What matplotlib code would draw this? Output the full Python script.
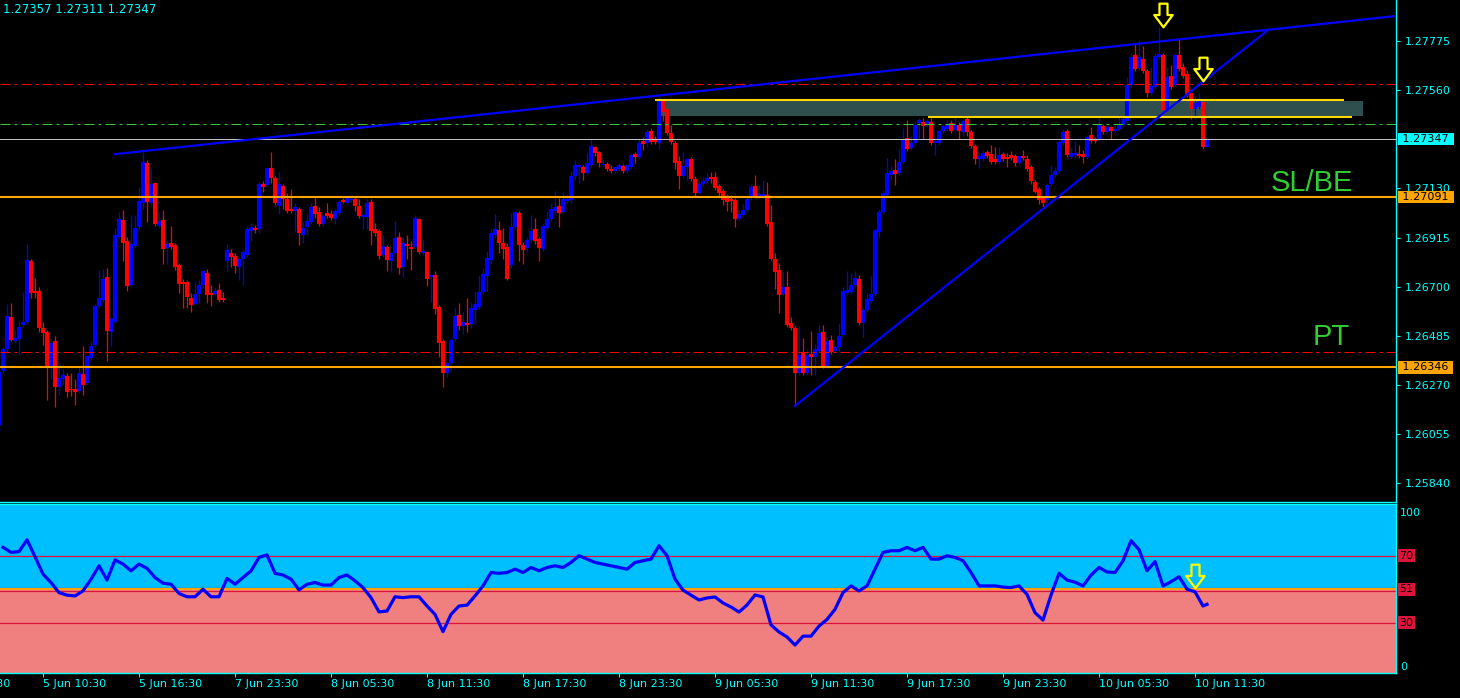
import numpy as np
import matplotlib.pyplot as plt
from matplotlib.path import Path
from matplotlib.patches import Rectangle
from matplotlib.transforms import blended_transform_factory

# GBPUSD-style M15 candles, prices in points (1e-5), first bar index -1
FIRST_BAR = -1
OPEN = [126094, 126331, 126428, 126567, 126463, 126471, 126532, 126545, 126813, 126681, 126681, 126519, 126501, 126353, 126463, 126260, 126296, 126309, 126252, 126252, 126244, 126317, 126278, 126388, 126445, 126616, 126642, 126742, 126501, 126545, 126917, 126992, 126900, 126707, 126878, 126961, 127066, 127241, 127066, 127154, 126966, 126992, 126869, 126891, 126882, 126795, 126720, 126720, 126650, 126624, 126667, 126707, 126760, 126672, 126667, 126685, 126650,
        126813, 126847, 126834, 126786, 126821, 126838, 126944, 126957, 126953, 127149, 127145, 127219, 127176, 127053, 127141, 127084, 127040, 127032, 127040, 126926, 126961, 126983, 127053, 127027, 126974, 127023, 127018, 126997, 127023, 127079, 127066, 127079, 127084, 127053, 127005, 127005, 127070, 126953, 126944, 126838, 126873, 126813, 126847, 126917, 126786, 126886, 126873, 126873, 126997, 126847, 126851, 126742, 126751, 126611, 126463, 126322, 126366, 126471, 126576, 126528, 126541, 126536, 126598, 126611, 126676, 126747, 126817, 126926, 126948, 126891, 126873, 126795, 126961, 127023, 126882, 126869, 126904, 126953, 126909, 126865, 126957, 126997, 127032, 127053, 127027, 127075, 127079, 127185, 127223, 127223, 127198, 127232, 127311, 127289, 127232, 127236, 127215, 127207, 127215, 127228, 127207, 127223, 127280, 127267, 127338, 127329, 127382, 127342, 127329, 127513, 127478, 127373, 127329, 127250, 127185, 127223, 127258, 127171, 127110, 127149, 127163, 127180, 127180, 127141, 127119, 127092, 127084, 127079, 126997, 127014, 127036, 127097, 127141, 127097, 127097, 127101, 126983, 126821, 126773, 126667, 126698, 126541, 126519, 126322, 126410, 126322, 126405, 126392, 126419, 126501, 126353, 126467, 126419, 126436, 126488, 126672, 126676, 126707, 126734, 126541, 126598, 126638, 126667, 126939, 127027, 127101, 127189, 127211, 127198, 127245, 127351, 127307, 127329, 127417, 127421, 127408, 127421, 127329, 127329, 127382, 127390, 127417, 127386, 127408, 127377, 127434, 127377, 127316, 127258, 127258, 127289, 127280, 127258, 127245, 127280, 127267, 127276, 127272, 127241, 127272, 127258, 127223, 127158, 127128, 127088, 127079, 127149, 127189, 127207, 127329, 127382, 127267, 127276, 127280, 127280, 127267, 127364, 127342, 127347, 127404, 127377, 127399, 127382, 127390, 127408, 127426, 127583, 127714, 127657, 127697, 127645, 127548, 127574, 127705, 127714, 127478, 127622, 127583, 127714, 127662, 127632, 127548, 127478, 127486, 127508, 127311]
HIGH = [126344, 126436, 126624, 126629, 126510, 126554, 126676, 126886, 126821, 126738, 126698, 126545, 126510, 126475, 126484, 126366, 126340, 126322, 126322, 126296, 126348, 126441, 126401, 126463, 126624, 126773, 126778, 126782, 126567, 126957, 127027, 127036, 126917, 127014, 127014, 127136, 127289, 127254, 127219, 127158, 127027, 127036, 126909, 126966, 126891, 126804, 126734, 126729, 126672, 126720, 126729, 126773, 126778, 126707, 126698, 126716, 126676,
        126886, 126865, 126847, 126829, 126860, 126966, 126979, 126970, 127158, 127163, 127223, 127289, 127185, 127202, 127149, 127110, 127128, 127066, 127049, 126988, 127018, 127066, 127088, 127049, 127018, 127066, 127036, 127040, 127079, 127088, 127092, 127092, 127092, 127084, 127023, 127084, 127084, 126979, 126953, 126926, 126882, 126856, 126988, 126939, 126917, 126926, 126900, 127014, 127001, 126909, 126856, 126755, 126769, 126620, 126471, 126375, 126480, 126607, 126629, 126589, 126650, 126633, 126681, 126751, 126782, 126856, 126953, 127018, 126988, 126957, 126891, 127023, 127032, 127032, 126895, 126917, 127014, 127001, 126917, 126979, 127032, 127066, 127119, 127088, 127114, 127105, 127207, 127254, 127236, 127232, 127285, 127347, 127316, 127294, 127258, 127245, 127232, 127228, 127241, 127236, 127236, 127285, 127289, 127351, 127355, 127390, 127395, 127360, 127530, 127517, 127486, 127408, 127338, 127272, 127289, 127263, 127267, 127185, 127167, 127180, 127198, 127202, 127202, 127149, 127128, 127105, 127101, 127088, 127036, 127062, 127097, 127149, 127189, 127145, 127167, 127158, 127057, 126847, 126804, 126769, 126769, 126567, 126528, 126528, 126475, 126428, 126506, 126449, 126532, 126532, 126475, 126488, 126445, 126541, 126698, 126769, 126760, 126769, 126751, 126611, 126667, 126747, 126957, 127040, 127123, 127263, 127228, 127258, 127303, 127395, 127430, 127360, 127426, 127438, 127438, 127434, 127438, 127355, 127386, 127412, 127430, 127430, 127442, 127421, 127434, 127442, 127386, 127324, 127289, 127298, 127298, 127320, 127311, 127311, 127289, 127285, 127294, 127280, 127276, 127298, 127276, 127232, 127167, 127136, 127097, 127154, 127232, 127223, 127342, 127390, 127390, 127311, 127338, 127320, 127298, 127364, 127399, 127355, 127447, 127412, 127404, 127404, 127408, 127451, 127442, 127618, 127723, 127767, 127780, 127754, 127653, 127662, 127723, 127836, 127723, 127662, 127670, 127723, 127789, 127679, 127649, 127548, 127535, 127548, 127508, 127357]
LOW = [126063, 126317, 126410, 126463, 126454, 126405, 126523, 126536, 126650, 126650, 126501, 126445, 126204, 126296, 126173, 126226, 126269, 126217, 126222, 126182, 126235, 126226, 126269, 126379, 126436, 126607, 126633, 126375, 126441, 126541, 126909, 126813, 126681, 126698, 126869, 126953, 127040, 126983, 127057, 126966, 126957, 126799, 126799, 126865, 126773, 126672, 126607, 126607, 126589, 126620, 126629, 126694, 126629, 126616, 126659, 126633, 126633,
       126769, 126786, 126760, 126729, 126707, 126829, 126900, 126935, 126935, 127114, 127136, 127154, 127057, 127018, 127040, 127023, 127023, 126939, 126882, 126891, 126926, 126974, 127001, 126966, 126966, 127001, 126992, 126974, 127014, 127066, 127057, 127070, 127032, 127001, 126953, 126953, 126882, 126922, 126821, 126829, 126769, 126764, 126838, 126755, 126742, 126821, 126773, 126865, 126842, 126838, 126703, 126633, 126580, 126392, 126260, 126304, 126331, 126463, 126510, 126493, 126501, 126519, 126536, 126603, 126667, 126681, 126799, 126917, 126847, 126821, 126729, 126782, 126953, 126813, 126799, 126851, 126895, 126886, 126813, 126856, 126948, 126988, 127023, 126961, 127018, 127066, 127066, 127167, 127154, 127167, 127189, 127219, 127272, 127223, 127223, 127207, 127198, 127198, 127207, 127198, 127198, 127215, 127241, 127258, 127298, 127311, 127324, 127324, 127303, 127426, 127364, 127324, 127215, 127128, 127176, 127163, 127163, 127097, 127105, 127141, 127154, 127154, 127123, 127097, 127057, 127032, 127027, 126961, 126988, 127005, 127027, 127079, 127088, 127088, 127088, 126966, 126813, 126690, 126585, 126659, 126523, 126510, 126178, 126313, 126313, 126313, 126313, 126313, 126410, 126344, 126344, 126405, 126410, 126410, 126480, 126663, 126667, 126698, 126532, 126480, 126589, 126629, 126659, 126917, 127018, 127092, 127167, 127145, 127189, 127236, 127294, 127298, 127320, 127347, 127347, 127399, 127320, 127276, 127320, 127373, 127382, 127373, 127377, 127347, 127360, 127360, 127307, 127236, 127219, 127250, 127263, 127236, 127236, 127236, 127250, 127223, 127254, 127228, 127232, 127254, 127207, 127149, 127110, 127062, 127049, 127070, 127141, 127180, 127198, 127320, 127267, 127258, 127267, 127263, 127241, 127258, 127329, 127329, 127338, 127368, 127368, 127347, 127373, 127382, 127399, 127417, 127574, 127645, 127649, 127636, 127530, 127539, 127566, 127697, 127460, 127469, 127566, 127574, 127645, 127614, 127530, 127434, 127434, 127478, 127303, 127311]
CLOSE = [126326, 126428, 126572, 126467, 126475, 126523, 126545, 126817, 126672, 126672, 126519, 126497, 126353, 126454, 126260, 126300, 126313, 126239, 126248, 126239, 126322, 126269, 126397, 126441, 126616, 126650, 126734, 126506, 126559, 126926, 126997, 126891, 126703, 126886, 126957, 127075, 127245, 127070, 127149, 126974, 126988, 126865, 126886, 126873, 126786, 126711, 126711, 126654, 126620, 126667, 126707, 126769, 126663, 126663, 126681, 126642, 126642,
         126860, 126829, 126791, 126821, 126851, 126953, 126961, 126948, 127149, 127136, 127219, 127176, 127066, 127149, 127084, 127032, 127032, 127049, 126935, 126957, 126988, 127049, 127018, 126974, 127010, 127010, 127001, 127032, 127070, 127070, 127088, 127084, 127053, 127010, 127014, 127066, 126944, 126935, 126834, 126878, 126817, 126847, 126913, 126782, 126891, 126878, 126865, 127001, 126851, 126856, 126734, 126751, 126603, 126454, 126322, 126366, 126467, 126572, 126528, 126545, 126532, 126607, 126624, 126676, 126755, 126825, 126935, 126953, 126891, 126865, 126734, 126961, 127027, 126882, 126860, 126904, 126944, 126900, 126869, 126966, 126997, 127040, 127049, 127023, 127084, 127084, 127185, 127232, 127232, 127198, 127241, 127316, 127285, 127241, 127236, 127215, 127207, 127223, 127232, 127207, 127232, 127276, 127267, 127329, 127324, 127377, 127333, 127333, 127513, 127464, 127373, 127333, 127241, 127185, 127228, 127258, 127171, 127110, 127149, 127163, 127176, 127171, 127132, 127110, 127079, 127070, 127075, 126997, 127018, 127036, 127084, 127136, 127097, 127105, 127105, 126974, 126821, 126764, 126663, 126698, 126532, 126519, 126322, 126401, 126322, 126401, 126392, 126428, 126497, 126353, 126463, 126414, 126436, 126484, 126681, 126685, 126707, 126738, 126541, 126598, 126646, 126667, 126948, 127027, 127110, 127198, 127207, 127193, 127245, 127347, 127303, 127329, 127408, 127430, 127404, 127426, 127329, 127338, 127382, 127404, 127412, 127382, 127408, 127382, 127426, 127377, 127316, 127258, 127272, 127285, 127272, 127245, 127245, 127276, 127258, 127258, 127263, 127241, 127272, 127263, 127215, 127163, 127114, 127079, 127066, 127145, 127189, 127207, 127333, 127377, 127276, 127285, 127285, 127272, 127267, 127355, 127338, 127338, 127408, 127377, 127399, 127382, 127390, 127408, 127434, 127583, 127705, 127653, 127705, 127645, 127548, 127579, 127710, 127719, 127473, 127618, 127574, 127714, 127653, 127622, 127539, 127478, 127504, 127513, 127311, 127347]

# RSI read every second bar (bars 0, 2, ... 300), then the last bar 301
RSI = [75, 72, 72.5, 79.5, 69.4, 59, 54, 48, 46.5, 46, 49, 56, 64, 55.5, 67.5, 65, 61, 65, 62.5, 57,
       53.6, 53, 47.5, 45.5, 45.5, 50, 45.5, 45.5, 56.5, 53, 57, 61, 69, 70.5, 59.5, 58.5, 56, 49.6, 53, 54,
       52.5, 52.5, 57, 58.5, 55, 51, 45, 36.5, 37, 45.5, 45, 45.5, 45.5, 40, 35, 24.7, 35, 40, 40.5, 46,
       52, 60, 59.5,
       60, 62, 60, 63, 61, 63, 64, 63, 66, 70, 68, 66, 65, 64, 63, 62, 66, 67, 68, 76, 70, 56, 49.5, 46.5,
       43.6, 44.8, 45.4, 41.8, 39.4, 36.4, 40.6, 46.6, 45.4, 28.7, 24.5, 21.5, 16.7, 22, 22, 28, 32, 38, 48,
       52, 49, 52, 62, 72, 73, 73, 75, 73, 75, 68, 68, 70, 69, 67, 60, 52, 52, 52,
       51.3, 51, 52, 47, 36, 31.6, 46.5, 59.5, 55.5, 54.2, 52, 58.5, 63, 60.3, 60, 67, 79, 73.6, 61, 66.5,
       52, 54.5, 57.5, 50, 48.5, 40]
RSI_LAST = 41

PRICE_TICKS = [1.27775, 1.27560, 1.27130, 1.26915, 1.26700, 1.26485, 1.26270, 1.26055, 1.25840]
TIME_BARS = [10, 34, 58, 82, 106, 130, 154, 178, 202, 226, 250, 274, 298]
TIME_LABELS = ['5 Jun 10:30', '5 Jun 16:30', '7 Jun 23:30', '8 Jun 05:30', '8 Jun 11:30', '8 Jun 17:30',
               '8 Jun 23:30', '9 Jun 05:30', '9 Jun 11:30', '9 Jun 17:30', '9 Jun 23:30', '10 Jun 05:30',
               '10 Jun 11:30']

# chart objects (bar index, price)
RED_LEVELS = [1.27587, 1.26414]
GREEN_LEVEL = 1.27412
BID = 1.27347
ORANGE_LEVELS = [1.27091, 1.26346]
YELLOW_LINES = [(163, 335.25, 1.27517), (231.25, 337.25, 1.27442)]
ZONE = (164.25, 340, 1.27447, 1.27513)
UPPER_TL = [(28, 348.25), (1.27280, 1.27885)]
LOWER_TL = [(198, 316), (1.26178, 1.27820)]
ARROWS = [(290, 1.27889), (300, 1.27653)]
RSI_ARROW = (298, 58)

CYAN = '#00FFFF'

fig = plt.figure(figsize=(14.6, 6.98), dpi=100, facecolor='black')
ax = fig.add_axes([0, 196 / 698, 1396 / 1460, 502 / 698])
rsi_ax = fig.add_axes([0, 25 / 698, 1396 / 1460, 169 / 698], sharex=ax)

# candles
o = np.array(OPEN) / 1e5
h = np.array(HIGH) / 1e5
l = np.array(LOW) / 1e5
c = np.array(CLOSE) / 1e5
x = np.arange(len(c)) + FIRST_BAR
cols = np.where(c >= o, '#0000FF', '#FF0000')
ax.vlines(x, l, h, colors=cols, lw=0.9, zorder=2)
ax.bar(x, np.maximum(np.abs(c - o), 0.00004), bottom=np.minimum(o, c), width=0.78,
       color=cols, linewidth=0, zorder=2)

ax.set_facecolor('black')
ax.set_xlim(-0.75, 348.25)
ax.set_ylim(1.25757, 1.27955)

# zone and lines
ax.add_patch(Rectangle((ZONE[0], ZONE[2]), ZONE[1] - ZONE[0], ZONE[3] - ZONE[2],
                       facecolor='#2F4F4F', edgecolor='none', zorder=1))
dashdot = (0, (10, 4, 3, 4))
for lv in RED_LEVELS:
    ax.axhline(lv, color='#FF0000', lw=0.72, ls=dashdot, zorder=3)
ax.axhline(GREEN_LEVEL, color='#32CD32', lw=0.72, ls=dashdot, zorder=3)
ax.axhline(BID, color='#C0C0C0', lw=0.72, zorder=3)
for lv in ORANGE_LEVELS:
    ax.axhline(lv, color='#FFA500', lw=1.5, zorder=3)
for x0, x1, lv in YELLOW_LINES:
    ax.hlines(lv, x0, x1, color='#FFD700', lw=1.5, zorder=3)
ax.plot(*UPPER_TL, color='#0000FF', lw=1.6, zorder=3)
ax.plot(*LOWER_TL, color='#0000FF', lw=1.6, zorder=3)

# hollow down arrows
arrow = Path([(-0.17, 0.5), (0.17, 0.5), (0.17, 0.02), (0.39, 0.02), (0, -0.5),
              (-0.39, 0.02), (-0.17, 0.02), (-0.17, 0.5)], closed=True)
for ax_, (bx, by) in [(ax, a) for a in ARROWS] + [(rsi_ax, RSI_ARROW)]:
    ax_.plot(bx, by, marker=arrow, markersize=17, markerfacecolor='none',
             markeredgecolor='#FFFF00', markeredgewidth=1.6, zorder=5)

ax.text(327.25, 1.27154, 'SL/BE', color='#32CD32', fontsize=21, family='Liberation Sans',
        ha='center', va='center', zorder=4)
ax.text(332, 1.26480, 'PT', color='#32CD32', fontsize=21, family='Liberation Sans',
        ha='center', va='center', zorder=4)

# price axis
ax.yaxis.tick_right()
ax.set_yticks(PRICE_TICKS)
ax.set_yticklabels(['%.5f' % t for t in PRICE_TICKS])
ax.tick_params(axis='y', colors=CYAN, labelsize=8, length=3, width=0.8, pad=3)
ax.tick_params(axis='x', bottom=False, labelbottom=False)
for s in ['left', 'top']:
    ax.spines[s].set_visible(False)
for s in ['right', 'bottom']:
    ax.spines[s].set_color(CYAN)
    ax.spines[s].set_linewidth(1)

lbl = blended_transform_factory(ax.transAxes, ax.transData)
ax.text(1.0025, BID, ' %.5f ' % BID, transform=lbl, fontsize=8, color='black', va='center',
        ha='left', clip_on=False, zorder=6,
        bbox=dict(boxstyle='square,pad=0.1', fc=CYAN, ec='none'))
for lv in ORANGE_LEVELS:
    ax.text(1.0025, lv, ' %.5f ' % lv, transform=lbl, fontsize=8, color='black', va='center',
            ha='left', clip_on=False, zorder=6,
            bbox=dict(boxstyle='square,pad=0.1', fc='#FFA500', ec='none'))

fig.text(3 / 1460, 1 - 3 / 698, '%.5f %.5f %.5f' % (h[-1], l[-1], c[-1]), color=CYAN,
         fontsize=8.5, va='top', ha='left')

# RSI panel
rsi_x = list(range(0, 2 * len(RSI), 2)) + [len(c) + FIRST_BAR - 1]
rsi_y = RSI + [RSI_LAST]
rsi_ax.set_facecolor('black')
rsi_ax.set_ylim(0, 100.9)
rsi_ax.axhspan(50, 100.9, color='#00BFFF', lw=0, zorder=0)
rsi_ax.axhspan(0, 50, color='#F08080', lw=0, zorder=0)
for lv in [70, 30, 51, 49]:
    rsi_ax.axhline(lv, color='#DC143C', lw=0.9, zorder=1)
rsi_ax.axhline(50, color='#FFA500', lw=1.4, zorder=1)
rsi_ax.plot(rsi_x, rsi_y, color='#0000FF', lw=2.3, solid_joinstyle='round', zorder=3)

rsi_ax.set_yticks([])
rsi_ax.spines['left'].set_visible(False)
for s in ['right', 'top', 'bottom']:
    rsi_ax.spines[s].set_color(CYAN)
    rsi_ax.spines[s].set_linewidth(1)

rl = blended_transform_factory(rsi_ax.transAxes, rsi_ax.transData)
rsi_ax.text(1.003, 95.5, '100', transform=rl, color=CYAN, fontsize=8, va='center', clip_on=False)
rsi_ax.text(1.003, 3.6, '0', transform=rl, color=CYAN, fontsize=8, va='center', clip_on=False)
for lv, txt in [(70, '70'), (50, '51'), (30, '30')]:
    rsi_ax.text(1.0025, lv, txt, transform=rl, color='black', fontsize=8, va='center',
                clip_on=False, bbox=dict(boxstyle='square,pad=0.15', fc='#DC143C', ec='none'))

rsi_ax.set_xticks(TIME_BARS)
rsi_ax.set_xticklabels(TIME_LABELS, ha='left')
rsi_ax.tick_params(axis='x', colors=CYAN, labelsize=8, length=3, width=0.8, pad=1.5)
rsi_ax.annotate('5 Jun 04:30', xy=(TIME_BARS[0] - 24, 0), xycoords=('data', 'axes fraction'),
                xytext=(0, -4.5), textcoords='offset points', color=CYAN, fontsize=8,
                ha='left', va='top', annotation_clip=False)
rsi_ax.set_xlim(-0.75, 348.25)

fig.savefig('out.png', dpi=100, facecolor='black')
